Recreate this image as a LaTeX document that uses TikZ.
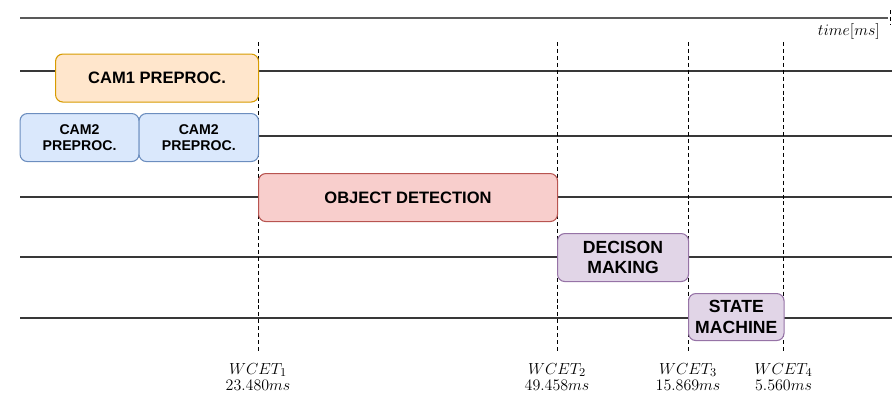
\documentclass[tikz,border=0pt]{standalone}
\usepackage{fontspec}
\setsansfont{Liberation Sans}
\begin{document}
\begin{tikzpicture}[x=0.75pt,y=-0.75pt,
  lane/.style={draw=black!78, line width=1.1pt},
  axis/.style={draw=black!65, line width=1.5pt},
  marker/.style={draw=black, line width=0.75pt, dash pattern=on 3pt off 2.2pt},
  task/.style={draw, rounded corners=5.5pt, line width=0.8pt, align=center,
    font=\sffamily\bfseries, inner sep=0pt, anchor=north west},
  cam1/.style={task, draw={rgb,255:red,215;green,155;blue,0},
    fill={rgb,255:red,255;green,230;blue,204}},
  cam2/.style={task, draw={rgb,255:red,108;green,142;blue,191},
    fill={rgb,255:red,218;green,232;blue,252}},
  detect/.style={task, draw={rgb,255:red,184;green,84;blue,80},
    fill={rgb,255:red,248;green,206;blue,204}},
  decide/.style={task, draw={rgb,255:red,150;green,115;blue,166},
    fill={rgb,255:red,225;green,213;blue,231}},
  wcet/.style={align=center, font=\fontsize{12.5}{12}\selectfont, anchor=north, inner sep=0pt}
]
\useasboundingbox (0,0) rectangle (892,394);

% time axis
\coordinate (axisL) at (20,18);
\coordinate (axisR) at (888,18);
\draw[axis] (axisL) -- (axisR);
\coordinate (tickT) at (890.5,10);
\coordinate (tickB) at (890.5,25);
\draw[marker, line width=0.6pt] (tickT) -- (tickB);
\node[font=\fontsize{12.5}{12}\selectfont, anchor=east, inner sep=0pt] (timelbl) at (880,31) {$time[ms]$};

% task lanes
\foreach \n/\y in {1/71,2/136,3/197,4/257,5/318}{
  \coordinate (laneL\n) at (20,\y);
  \coordinate (laneR\n) at (892,\y);
  \draw[lane] (laneL\n) -- (laneR\n);
}

% WCET boundaries
\foreach \n/\x in {1/258,2/557,3/688,4/783.5}{
  \coordinate (wtop\n) at (\x,42);
  \coordinate (wbot\n) at (\x,352);
  \draw[marker] (wtop\n) -- (wbot\n);
}

% tasks
\node[cam1, minimum width=203*0.75pt, minimum height=48*0.75pt,
  font=\sffamily\bfseries\fontsize{12.4}{14}\selectfont] (cam1) at (55,53.5) {CAM1 PREPROC.};
\node[cam2, minimum width=119*0.75pt, minimum height=48*0.75pt,
  font=\sffamily\bfseries\fontsize{10.6}{12.5}\selectfont] (cam2a) at (19.5,113) {CAM2\\PREPROC.};
\node[cam2, minimum width=119.5*0.75pt, minimum height=48*0.75pt,
  font=\sffamily\bfseries\fontsize{10.6}{12.5}\selectfont] (cam2b) at (138.5,113) {CAM2\\PREPROC.};
\node[detect, minimum width=299*0.75pt, minimum height=48*0.75pt,
  font=\sffamily\bfseries\fontsize{12.4}{14}\selectfont] (objdet) at (258,173) {OBJECT DETECTION};
\node[decide, minimum width=131*0.75pt, minimum height=48*0.75pt,
  font=\sffamily\bfseries\fontsize{13.2}{15.5}\selectfont] (decision) at (557,233) {DECISON\\MAKING};
\node[decide, minimum width=95.5*0.75pt, minimum height=47*0.75pt,
  font=\sffamily\bfseries\fontsize{13.2}{15.5}\selectfont] (statem) at (688,293) {STATE\\MACHINE};

% WCET labels
\node[wcet] (w1) at (258,363) {$WCET_1$\\$23.480ms$};
\node[wcet] (w2) at (557,363) {$WCET_2$\\$49.458ms$};
\node[wcet] (w3) at (688,363) {$WCET_3$\\$15.869ms$};
\node[wcet] (w4) at (783.5,363) {$WCET_4$\\$5.560ms$};
\end{tikzpicture}
\end{document}
